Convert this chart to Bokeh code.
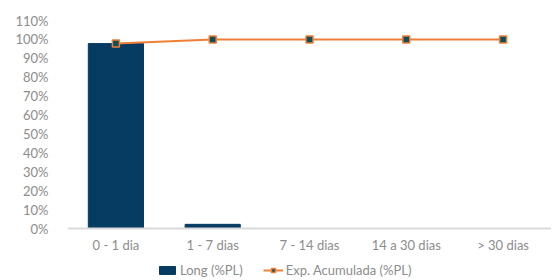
from bokeh.plotting import figure
from bokeh.models import FactorRange, Range1d, NumeralTickFormatter, FixedTicker, Legend, LegendItem, ColumnDataSource
from bokeh.embed import file_html
from bokeh.resources import INLINE

categories = ["0 - 1 dia", "1 - 7 dias", "7 - 14 dias", "14 a 30 dias", "> 30 dias"]
long_pl = [0.978, 0.022, 0.0, 0.0, 0.0]
exp_acum = [0.978, 1.0, 1.0, 1.0, 1.0]
y_ticks = [0.0, 0.1, 0.2, 0.3, 0.4, 0.5, 0.6, 0.7, 0.8, 0.9, 1.0, 1.1]

src = ColumnDataSource(dict(cat=categories, long=long_pl, acc=exp_acum))

p = figure(x_range=FactorRange(*categories), y_range=Range1d(-0.275, 1.1),
           frame_width=484, frame_height=260, output_backend="svg", toolbar_location=None,
           min_border_left=67, min_border_right=0, min_border_top=20, min_border_bottom=0)
p.outline_line_color = None
p.xgrid.grid_line_color = None
p.ygrid.grid_line_color = None
p.x_range.range_padding = 0
p.x_range.factor_padding = 0

bars = p.vbar(x="cat", top="long", width=0.57, source=src, color="#063B62")
line = p.line(x="cat", y="acc", source=src, line_color="#EE7F35", line_width=2)
pts = p.scatter(x="cat", y="acc", source=src, marker="square", size=7,
                fill_color="#0E4F5C", line_color="#EE7F35", line_width=1.5)

p.yaxis.ticker = FixedTicker(ticks=y_ticks)
p.yaxis.formatter = NumeralTickFormatter(format="0%")
p.yaxis.axis_line_color = None
p.yaxis.major_tick_line_color = None
p.yaxis.minor_tick_line_color = None
p.yaxis.major_label_standoff = 13
p.xaxis.fixed_location = 0
p.xaxis.axis_line_color = "#D9D9D9"
p.xaxis.axis_line_width = 2
p.xaxis.major_tick_line_color = None
p.xaxis.minor_tick_line_color = None
p.xaxis.major_label_standoff = 2
for ax in (p.xaxis, p.yaxis):
    ax.major_label_text_font = "Lato"
    ax.major_label_text_font_size = "13px"
    ax.major_label_text_color = "#8C8C8C"

legend = Legend(items=[LegendItem(label="Long (%PL)", renderers=[bars]),
                       LegendItem(label="Exp. Acumulada (%PL)", renderers=[line, pts])],
                orientation="horizontal", location=(90, 2),
                label_text_font="Lato", label_text_font_size="13px", label_text_color="#8C8C8C",
                label_height=14, glyph_width=20, glyph_height=10, label_standoff=3, spacing=20,
                padding=0, margin=0, border_line_color=None, background_fill_alpha=0)
p.add_layout(legend, "center")

open("out.html", "w").write(file_html(p, INLINE))
